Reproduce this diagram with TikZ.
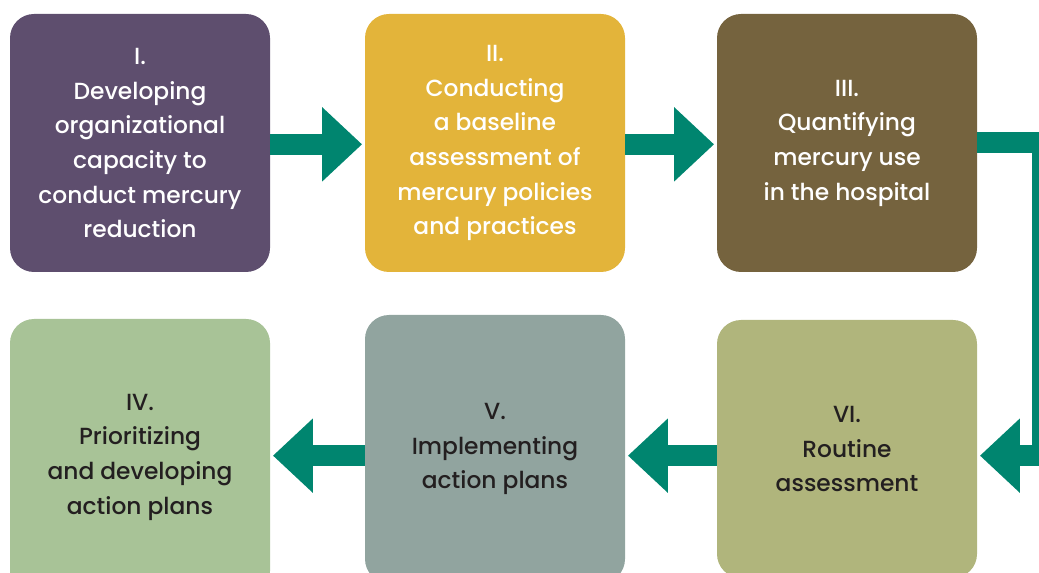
\documentclass[tikz,border=0pt]{standalone}
\usepackage{fontspec}
\setmainfont{Poppins}[UprightFont=* Medium]
\usetikzlibrary{arrows.meta}
\definecolor{stageone}{HTML}{5E4E6E}
\definecolor{stagetwo}{HTML}{E3B43A}
\definecolor{stagethree}{HTML}{75633E}
\definecolor{stagefour}{HTML}{A8C397}
\definecolor{stagefive}{HTML}{91A49F}
\definecolor{stagesix}{HTML}{B0B57C}
\definecolor{flowgreen}{HTML}{00856F}
\definecolor{darktext}{HTML}{231F20}
\tikzset{
  stage/.style={rounded corners=18pt, minimum width=195pt, minimum height=193.5pt,
    inner sep=0pt, align=center, font=\fontsize{17.5}{26}\selectfont},
  flow/.style={draw=flowgreen, line width=15.75pt,
    -{Triangle[length=30pt,width=54pt]}, shorten >=2pt}
}
\begin{document}
\begin{tikzpicture}[x=0.75pt,y=-0.75pt]
\useasboundingbox (0,0) rectangle (1039,573);
\clip (0,0) rectangle (1039,573);
% top row
\node[stage, fill=stageone, text=white] (develop) at (140,143)
  {I.\\Developing\\organizational\\capacity to\\conduct mercury\\reduction};
\node[stage, fill=stagetwo, text=white] (baseline) at (495,143)
  {II.\\Conducting\\a baseline\\assessment of\\mercury policies\\and practices};
\node[stage, fill=stagethree, text=white] (quantify) at (847,143)
  {III.\\Quantifying\\mercury use\\in the hospital};
% bottom row
\node[stage, fill=stagefour, text=darktext, minimum height=207pt] (prioritize) at (140,457)
  {IV.\\Prioritizing\\and developing\\action plans};
\node[stage, fill=stagefive, text=darktext, minimum height=201pt] (implement) at (495,449)
  {V.\\Implementing\\action plans};
\node[stage, fill=stagesix, text=darktext] (routine) at (847,449)
  {VI.\\Routine\\assessment};
% arrows
\draw[flow] ([yshift=-1pt]develop.east) -- ([yshift=-1pt]develop.east -| baseline.west);
\draw[flow] ([yshift=-1pt]baseline.east) -- ([yshift=-1pt]baseline.east -| quantify.west);
\draw[flow] (quantify.east) -- ++(65,0) |- ([yshift=-5pt]routine.east);
\draw[flow] ([yshift=-5pt]routine.west) -- ([yshift=-5pt]routine.west -| implement.east);
\draw[flow] ([yshift=-5pt]implement.west) -- ([yshift=-5pt]implement.west -| prioritize.east);
\end{tikzpicture}
\end{document}
